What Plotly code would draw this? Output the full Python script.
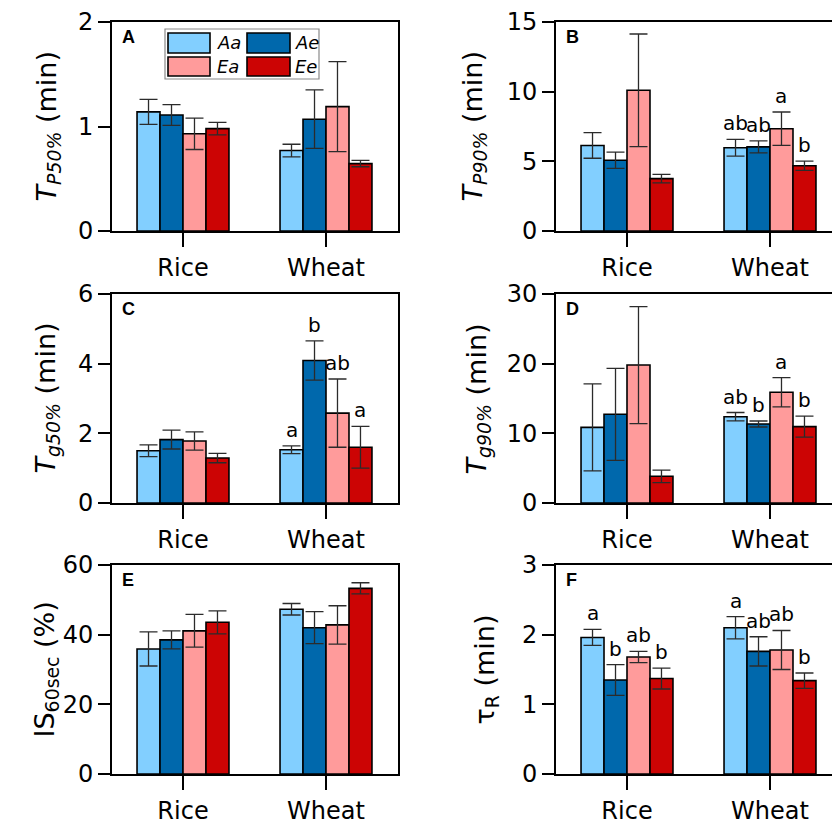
import plotly.graph_objects as go

W, H = 832, 822

categories = ["Rice", "Wheat"]
groups = ["Aa", "Ae", "Ea", "Ee"]
colors = ["#82CFFF", "#0068AC", "#FF9B9B", "#CC0404"]

# Panel A: T_P50% (min); rows = groups (Aa, Ae, Ea, Ee), cols = (Rice, Wheat)
tp50_mean = [[1.14, 0.77], [1.11, 1.07], [0.93, 1.19], [0.98, 0.645]]
tp50_err = [[0.12, 0.06], [0.10, 0.28], [0.15, 0.43], [0.06, 0.03]]
tp50_letters = [["", ""], ["", ""], ["", ""], ["", ""]]

# Panel B: T_P90% (min)
tp90_mean = [[6.14, 5.97], [5.08, 6.04], [10.1, 7.34], [3.76, 4.68]]
tp90_err = [[0.92, 0.60], [0.58, 0.43], [4.04, 1.20], [0.31, 0.33]]
tp90_letters = [["", "ab"], ["", "ab"], ["", "a"], ["", "b"]]

# Panel C: T_g50% (min)
tg50_mean = [[1.50, 1.53], [1.82, 4.09], [1.78, 2.58], [1.29, 1.60]]
tg50_err = [[0.17, 0.11], [0.27, 0.565], [0.26, 0.98], [0.135, 0.60]]
tg50_letters = [["", "a"], ["", "b"], ["", "ab"], ["", "a"]]

# Panel D: T_g90% (min)
tg90_mean = [[10.86, 12.39], [12.73, 11.34], [19.8, 15.89], [3.83, 10.96]]
tg90_err = [[6.25, 0.60], [6.6, 0.43], [8.4, 2.1], [0.9, 1.5]]
tg90_letters = [["", "ab"], ["", "b"], ["", "a"], ["", "b"]]

# Panel E: IS_60sec (%)
is60_mean = [[35.9, 47.3], [38.5, 42.0], [41.1, 42.8], [43.55, 53.3]]
is60_err = [[4.9, 1.65], [2.6, 4.6], [4.7, 5.5], [3.3, 1.6]]
is60_letters = [["", ""], ["", ""], ["", ""], ["", ""]]

# Panel F: tau_R (min)
tau_mean = [[1.96, 2.10], [1.35, 1.76], [1.68, 1.78], [1.37, 1.34]]
tau_err = [[0.115, 0.16], [0.22, 0.21], [0.08, 0.28], [0.15, 0.11]]
tau_letters = [["a", "a"], ["b", "ab"], ["ab", "ab"], ["b", "b"]]

panel_labels = ["A", "B", "C", "D", "E", "F"]
y_titles = [
    "<i>T</i><sub><i>P50%</i></sub> (min)",
    "<i>T</i><sub><i>P90%</i></sub> (min)",
    "<i>T</i><sub><i>g50%</i></sub> (min)",
    "<i>T</i><sub><i>g90%</i></sub> (min)",
    "IS<sub>60sec</sub> (%)",
    "τ<sub>R</sub> (min)",
]
y_max = [2, 15, 6, 30, 60, 3]
y_dtick = [1, 5, 2, 10, 20, 1]

panels = [
    (tp50_mean, tp50_err, tp50_letters),
    (tp90_mean, tp90_err, tp90_letters),
    (tg50_mean, tg50_err, tg50_letters),
    (tg90_mean, tg90_err, tg90_letters),
    (is60_mean, is60_err, is60_letters),
    (tau_mean, tau_err, tau_letters),
]

FONT = "DejaVu Sans"
BARGAP = 0.357

# layout geometry in pixels
col_x = [(112, 398), (556, 832)]
row_y = [(22, 231), (294, 503), (565, 774)]
px_per_unit = 143.0
title_x = [[48, 474], [47, 478], [46, 486]]


def px_x(p):
    return p / W


def px_y(p):
    return 1 - p / H


fig = go.Figure()
annotations = []
shapes = []

for k, (means, errs, letters) in enumerate(panels):
    r, c = divmod(k, 2)
    idx = "" if k == 0 else str(k + 1)
    xa, ya = "x" + idx, "y" + idx
    for g in range(len(groups)):
        fig.add_trace(go.Bar(
            x=list(range(len(categories))),
            y=means[g],
            name=groups[g],
            marker=dict(color=colors[g], line=dict(color="black", width=1.6)),
            error_y=dict(type="data", array=errs[g], visible=True,
                         color="#2b2b2b", thickness=1.3, width=9),
            showlegend=False,
            xaxis=xa, yaxis=ya,
        ))
        bw = (1 - BARGAP) / len(groups)
        for ci in range(len(categories)):
            t = letters[g][ci]
            if t:
                annotations.append(dict(
                    x=ci + (g - (len(groups) - 1) / 2) * bw,
                    y=means[g][ci] + errs[g][ci],
                    xref=xa, yref=ya, text=t, showarrow=False,
                    xanchor="center", yanchor="bottom", yshift=2,
                    font=dict(family=FONT, size=20, color="black"),
                ))
    x0, x1 = col_x[c]
    y0, y1 = row_y[r]
    rng_lo = -(71.0 / px_per_unit)
    rng_hi = rng_lo + (x1 - x0) / px_per_unit
    xkey = "xaxis" + idx
    ykey = "yaxis" + idx
    fig.layout[xkey] = dict(
        domain=[px_x(x0), px_x(x1)], anchor=ya, range=[rng_lo, rng_hi],
        tickvals=list(range(len(categories))), ticktext=categories,
        ticks="outside", ticklen=14, tickwidth=2, tickcolor="black",
        showline=True, linewidth=2, linecolor="black", mirror=True,
        showgrid=False, zeroline=False, automargin=False,
        tickfont=dict(family=FONT, size=24, color="black"),
    )
    fig.layout[ykey] = dict(
        domain=[px_y(y1), px_y(y0)], anchor=xa, range=[0, y_max[k]],
        dtick=y_dtick[k], tick0=0,
        ticks="outside", ticklen=12, tickwidth=2, tickcolor="black",
        showline=True, linewidth=2, linecolor="black", mirror=(c == 0),
        showgrid=False, zeroline=False, automargin=False,
        tickfont=dict(family=FONT, size=24, color="black"),
    )
    # panel label
    annotations.append(dict(
        x=0, y=1, xref=xa + " domain", yref=ya + " domain",
        text="<b>%s</b>" % panel_labels[k], showarrow=False,
        xanchor="left", yanchor="top", xshift=8, yshift=-3,
        font=dict(family="Liberation Sans", size=18, color="black"),
    ))
    # y-axis title
    annotations.append(dict(
        x=px_x(title_x[r][c]), y=px_y((y0 + y1) / 2), xref="paper", yref="paper",
        text=y_titles[k], showarrow=False, textangle=-90,
        xanchor="center", yanchor="middle",
        font=dict(family=FONT, size=27, color="black"),
    ))

# legend drawn inside panel A
leg_box = (165, 29, 319, 79)
shapes.append(dict(type="rect", xref="paper", yref="paper",
                   x0=px_x(leg_box[0]), x1=px_x(leg_box[2]),
                   y0=px_y(leg_box[3]), y1=px_y(leg_box[1]),
                   line=dict(color="#8a8a8a", width=1.2), fillcolor="white", layer="above"))
sw_cols = [(168, 210, 215), (247, 290, 293)]
sw_rows = [(33, 53), (57, 76)]
for g, name in enumerate(groups):
    col = g % 2
    row = g // 2
    sx0, sx1, tx = sw_cols[col]
    sy0, sy1 = sw_rows[row]
    shapes.append(dict(type="rect", xref="paper", yref="paper",
                       x0=px_x(sx0), x1=px_x(sx1), y0=px_y(sy1), y1=px_y(sy0),
                       line=dict(color="black", width=1.6), fillcolor=colors[g], layer="above"))
    annotations.append(dict(
        x=px_x(tx), y=px_y((sy0 + sy1) / 2), xref="paper", yref="paper",
        text="<i>%s</i>" % name, showarrow=False, xanchor="left", yanchor="middle",
        font=dict(family=FONT, size=18, color="black"),
    ))

fig.update_layout(
    width=W, height=H, margin=dict(l=0, r=0, t=0, b=0, autoexpand=False),
    paper_bgcolor="white", plot_bgcolor="white",
    barmode="group", bargap=BARGAP, bargroupgap=0,
    annotations=annotations, shapes=shapes,
    font=dict(family=FONT, color="black"),
)

fig.write_html("out.html")
